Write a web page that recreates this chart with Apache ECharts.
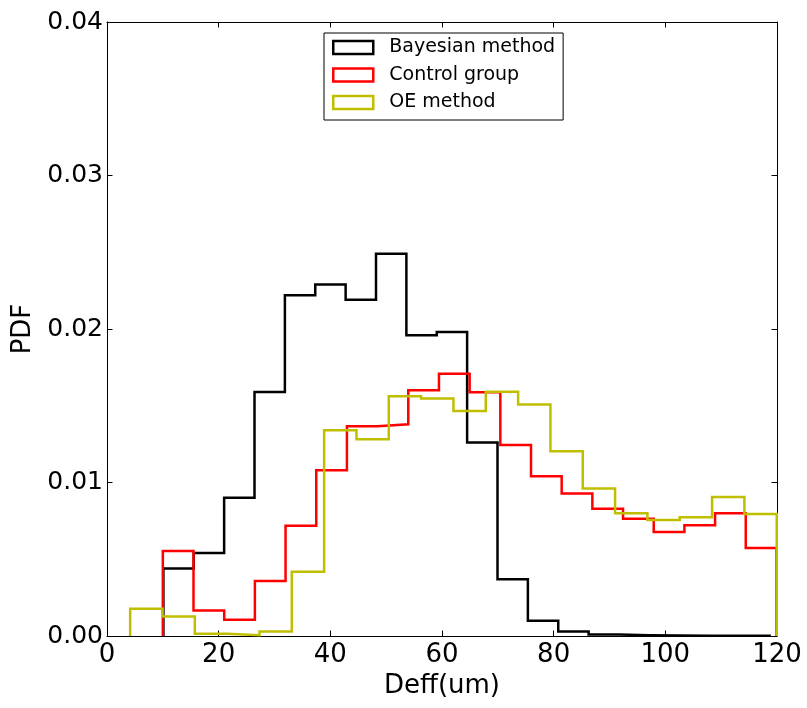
<!DOCTYPE html>
<html>
<head>
<meta charset="utf-8">
<title>Deff PDF</title>
<script src="https://cdn.jsdelivr.net/npm/echarts@6/dist/echarts.min.js"></script>
<style>
  html, body { margin: 0; padding: 0; background: #fff; }
  #chart { width: 807px; height: 708px; }
</style>
</head>
<body>
<div id="chart"></div>
<script>
// Histogram densities (step outlines) of effective diameter Deff for three groups.
const seriesNames = ['Bayesian method', 'Control group', 'OE method'];
const seriesColors = ['#000000', '#ff0000', '#bfbf00'];

// Each histogram: first bin edge, bin width, and the density of every bin.
const bayesStart = 10.1;
const bayesWidth = 5.44;
const bayesValues = [0.0044, 0.0054, 0.0090, 0.0159, 0.0222, 0.0229, 0.0219, 0.0249, 0.0196, 0.0198,
                     0.0126, 0.0037, 0.0010, 0.0003, 0.0001, 0.00005, 0.00003, 0.00002, 0.00001, 0.00001];

const controlStart = 10.0;
const controlWidth = 5.495;
const controlValues = [0.00554, 0.00166, 0.00106, 0.00359, 0.00718, 0.0108, 0.01366, 0.01379, 0.01601, 0.01708,
                       0.01588, 0.01244, 0.01041, 0.00929, 0.00829, 0.00764, 0.00677, 0.00721, 0.00799, 0.00573];

const oeStart = 4.15;
const oeWidth = 5.79;
const oeValues = [0.00177, 0.00127, 0.00015, 0.00005, 0.0003, 0.00418, 0.0134, 0.01281, 0.01562, 0.01547,
                  0.01465, 0.01591, 0.01508, 0.01203, 0.00961, 0.00799, 0.00755, 0.00773, 0.00906, 0.00794];

// Axis ticks
const xTicks = [0, 20, 40, 60, 80, 100, 120];
const yTicks = [0.00, 0.01, 0.02, 0.03, 0.04];

// Turn bin edges + densities into the outline of a step histogram.
function stepOutline(start, width, values) {
  const pts = [[start, 0]];
  values.forEach((v, i) => {
    pts.push([start + i * width, v]);
    pts.push([start + (i + 1) * width, v]);
  });
  pts.push([start + values.length * width, 0]);
  return pts;
}

const histograms = [
  stepOutline(bayesStart, bayesWidth, bayesValues),
  stepOutline(controlStart, controlWidth, controlValues),
  stepOutline(oeStart, oeWidth, oeValues)
];

const FONT = 'DejaVu Sans';
const xMin = xTicks[0], xMax = xTicks[xTicks.length - 1];
const yMin = yTicks[0], yMax = yTicks[yTicks.length - 1];
const xStep = xTicks[1] - xTicks[0];
const yStep = yTicks[1] - yTicks[0];

const inwardTick = { show: true, inside: true, length: 5.5, lineStyle: { color: '#000', width: 1 } };
const frameLine = { show: true, onZero: false, lineStyle: { color: '#000', width: 1 } };

const chart = echarts.init(document.getElementById('chart'), null, { renderer: 'canvas' });
chart.setOption({
  animation: false,
  backgroundColor: '#fff',
  grid: { left: 107, top: 22, width: 670, height: 614, containLabel: false },
  xAxis: [
    {
      type: 'value', min: xMin, max: xMax, interval: xStep, position: 'bottom',
      name: 'Deff(um)', nameLocation: 'middle', nameGap: 33,
      nameTextStyle: { fontFamily: FONT, fontSize: 26, color: '#000' },
      axisLine: frameLine, axisTick: inwardTick, splitLine: { show: false },
      axisLabel: { margin: 6, fontFamily: FONT, fontSize: 26, color: '#000' }
    },
    {
      type: 'value', min: xMin, max: xMax, interval: xStep, position: 'top',
      axisLine: frameLine, axisTick: inwardTick, splitLine: { show: false },
      axisLabel: { show: false }
    }
  ],
  yAxis: [
    {
      type: 'value', min: yMin, max: yMax, interval: yStep, position: 'left',
      name: 'PDF', nameLocation: 'middle', nameGap: 60, nameRotate: 90,
      nameTextStyle: { fontFamily: FONT, fontSize: 26, color: '#000' },
      axisLine: frameLine, axisTick: inwardTick, splitLine: { show: false },
      axisLabel: { margin: 4, fontFamily: FONT, fontSize: 25, color: '#000',
                   formatter: v => v.toFixed(2) }
    },
    {
      type: 'value', min: yMin, max: yMax, interval: yStep, position: 'right',
      axisLine: frameLine, axisTick: inwardTick, splitLine: { show: false },
      axisLabel: { show: false }
    }
  ],
  legend: {
    orient: 'vertical', left: 324, top: 33,
    backgroundColor: '#fff', borderColor: '#000', borderWidth: 1, borderRadius: 0,
    padding: [5, 8, 8, 8],
    itemWidth: 40, itemHeight: 13, itemGap: 8.5,
    textStyle: { fontFamily: FONT, fontSize: 19, color: '#000', lineHeight: 19, padding: [0, 0, 0, 11] },
    data: seriesNames.map((n, i) => ({
      name: n, icon: 'rect',
      itemStyle: { color: 'rgba(0,0,0,0)', borderColor: seriesColors[i], borderWidth: 2.5 }
    }))
  },
  series: histograms.map((pts, i) => ({
    name: seriesNames[i],
    type: 'line',
    data: pts,
    showSymbol: false,
    symbol: 'none',
    clip: true,
    color: seriesColors[i],
    lineStyle: { color: seriesColors[i], width: 2.5, join: 'miter' },
    z: 2 + i
  }))
});
</script>
</body>
</html>
